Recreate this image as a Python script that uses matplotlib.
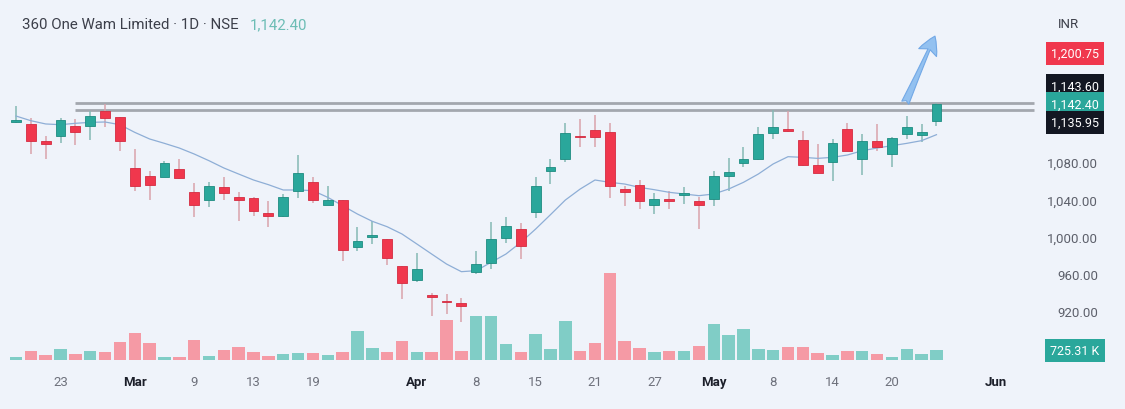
import matplotlib.pyplot as plt
import numpy as np

plt.rcParams['font.family'] = ['Roboto', 'DejaVu Sans']

# daily candles, 63 sessions (Feb 20 .. May 24)
opens = [1122.5, 1120.8, 1102.2, 1108.2, 1118.6, 1118.6, 1134.3, 1127.9, 1073.6, 1065.0,
         1064.3, 1072.1, 1047.5, 1039.2, 1053.5, 1042.1, 1041.0, 1025.0, 1022.1, 1049.3,
         1058.2, 1034.2, 1039.2, 989.2, 999.2, 997.1, 968.5, 953.5, 937.0, 931.3,
         928.8, 961.7, 971.3, 998.1, 1008.5, 1026.0, 1070.0, 1083.2, 1108.2, 1114.3,
         1112.5, 1051.0, 1055.7, 1033.9, 1040.3, 1044.3, 1037.8, 1040.3, 1064.6, 1078.6,
         1083.2, 1111.1, 1115.4, 1103.9, 1076.8, 1079.6, 1115.4, 1083.2, 1102.9, 1088.6,
         1110.0, 1109.3, 1123.6]
highs = [1140.4, 1127.2, 1108.2, 1127.2, 1126.1, 1135.1, 1142.2, 1128.6, 1093.9, 1070.0,
         1081.4, 1083.2, 1057.1, 1058.2, 1063.6, 1047.5, 1042.1, 1037.8, 1045.7, 1087.9,
         1064.3, 1053.9, 1039.2, 1009.9, 1017.1, 997.4, 968.8, 982.0, 939.2, 938.5,
         934.2, 984.2, 1015.3, 1020.7, 1014.2, 1063.6, 1083.2, 1121.5, 1126.1, 1130.8,
         1121.5, 1054.6, 1060.7, 1046.4, 1048.5, 1053.5, 1042.1, 1070.7, 1084.3, 1096.4,
         1117.2, 1135.8, 1135.1, 1113.6, 1099.3, 1104.7, 1121.5, 1110.0, 1120.8, 1107.2,
         1129.7, 1120.8, 1143.0]
lows = [1121.5, 1088.6, 1083.2, 1100.0, 1098.6, 1103.6, 1117.9, 1092.1, 1049.3, 1039.2,
        1064.3, 1061.8, 1021.4, 1032.1, 1039.2, 1017.1, 1022.4, 1010.6, 1021.4, 1041.4,
        1035.7, 1033.9, 974.2, 984.9, 992.1, 969.9, 933.1, 950.9, 915.2, 917.0,
        908.4, 959.9, 965.2, 992.8, 976.0, 1019.9, 1056.4, 1079.6, 1095.7, 1095.7,
        1041.4, 1033.2, 1029.6, 1024.2, 1029.6, 1035.0, 1008.1, 1033.2, 1049.3, 1075.0,
        1082.1, 1104.7, 1111.8, 1076.1, 1067.8, 1060.0, 1091.4, 1066.1, 1091.4, 1075.0,
        1104.7, 1101.1, 1118.3]
closes = [1125.4, 1102.9, 1099.3, 1125.0, 1111.8, 1129.7, 1127.2, 1102.2, 1053.9, 1055.7,
          1079.3, 1062.8, 1034.2, 1053.9, 1047.1, 1039.2, 1027.1, 1022.1, 1042.1, 1068.6,
          1039.2, 1039.2, 985.6, 995.6, 1001.4, 977.0, 949.9, 965.2, 934.9, 929.5,
          925.6, 970.6, 997.1, 1011.7, 990.3, 1054.6, 1075.0, 1111.1, 1106.4, 1107.2,
          1054.6, 1048.2, 1038.5, 1040.3, 1037.8, 1047.1, 1034.2, 1065.3, 1069.6, 1082.9,
          1110.0, 1117.2, 1113.6, 1076.8, 1068.6, 1100.4, 1092.1, 1102.9, 1096.4, 1105.7,
          1117.2, 1111.8, 1142.4]
# volume in thousands
volumes = [250, 675, 350, 800, 425, 700, 625, 1325, 2000, 1300,
           250, 200, 1525, 300, 775, 1000, 600, 300, 425, 550,
           550, 375, 575, 2175, 925, 575, 1425, 600, 625, 3000,
           700, 3300, 3300, 1200, 575, 1925, 800, 2900, 675, 1300,
           6550, 1425, 925, 575, 675, 675, 1075, 2675, 1900, 2350,
           825, 725, 1000, 950, 550, 350, 700, 650, 450, 250,
           825, 475, 725.31]
# moving average line
ma_line = [1129.3, 1124.3, 1120.8, 1120.0, 1121.5, 1122.5, 1122.9, 1120.0, 1111.8, 1104.7,
           1100.0, 1095.0, 1088.6, 1081.4, 1073.6, 1067.1, 1060.7, 1055.7, 1050.0, 1050.0,
           1049.3, 1042.1, 1033.2, 1024.2, 1016.4, 1010.6, 1002.8, 992.1, 981.3, 970.6,
           962.4, 963.5, 972.4, 981.3, 993.8, 1008.1, 1023.5, 1039.2, 1051.0, 1060.7,
           1058.2, 1056.4, 1052.8, 1050.3, 1047.5, 1045.7, 1043.9, 1045.7, 1051.0, 1058.2,
           1067.1, 1077.9, 1085.7, 1085.0, 1083.9, 1085.0, 1087.5, 1092.1, 1095.0, 1097.5,
           1100.0, 1102.9, 1109.3]

tick_pos = [3, 8, 12, 16, 20, 27, 31, 35, 39, 43, 47, 51, 55, 59, 66]
tick_text = ['23', 'Mar', '9', '13', '19', 'Apr', '8', '15', '21', '27', 'May', '8', '14', '20', 'Jun']
month_names = ['Mar', 'Apr', 'May', 'Jun']
price_ticks = [920, 960, 1000, 1040, 1080]
level_lines = [1143.60, 1135.95]
target_price = 1200.75
last_price = 1142.40

bg = '#eff3fa'
up_c, up_edge = '#2aa79b', '#1e8c80'
dn_c, dn_edge = '#f0374d', '#d42b40'
up_vol, dn_vol = '#80cdc6', '#f59aa5'

W, H = 1125, 410
fig = plt.figure(figsize=(W / 100, H / 100), dpi=100, facecolor=bg)
rect = [5 / W, 45 / H, 1025 / W, 325 / H]
vax = fig.add_axes(rect)
ax = fig.add_axes(rect, sharex=vax)
ax.set_zorder(2)
ax.patch.set_visible(False)
vax.set_facecolor(bg)

x = np.arange(len(closes))
o = np.array(opens)
c = np.array(closes)
up = c >= o

# volume
vax.bar(x, volumes, width=0.84, color=[up_vol if u else dn_vol for u in up], linewidth=0)
vax.set_ylim(-300, 24170)
vax.axis('off')

# candles
ax.vlines(x[up], np.array(lows)[up], np.array(highs)[up], color='#85b9b4', lw=1.1, zorder=2)
ax.vlines(x[~up], np.array(lows)[~up], np.array(highs)[~up], color='#d9a3ab', lw=1.1, zorder=2)
body_lo = np.minimum(o, c)
body_h = np.maximum(np.abs(c - o), 0.9)
ax.bar(x[up], body_h[up], bottom=body_lo[up], width=0.66, color=up_c, edgecolor=up_edge, lw=0.6, zorder=3)
ax.bar(x[~up], body_h[~up], bottom=body_lo[~up], width=0.66, color=dn_c, edgecolor=dn_edge, lw=0.6, zorder=3)

ax.plot(x, ma_line, color='#8eaed6', lw=0.9, zorder=2.5)

# horizontal levels
for lv in level_lines:
    ax.hlines(lv, 4, 68.6, color='#a3a7ae', lw=2.0, zorder=1, clip_on=False)

ax.set_xlim(-0.74, 68.3)
ax.set_ylim(863.4, 1211.9)

for s in ax.spines.values():
    s.set_visible(False)
ax.yaxis.tick_right()
ax.set_yticks(price_ticks, [f'{v:,.2f}' for v in price_ticks])
ax.tick_params(axis='y', length=0, pad=49, labelsize=9.5, labelcolor='#5d606b')
for lbl in ax.get_yticklabels():
    lbl.set_ha('right')
ax.set_xticks(tick_pos, tick_text)
ax.tick_params(axis='x', length=0, pad=8, labelsize=9.5, labelcolor='#6e717c')
for lbl in ax.get_xticklabels():
    if lbl.get_text() in month_names:
        lbl.set_fontweight('bold')
        lbl.set_color('#1c1f2a')

# price scale labels
ytr = ax.get_yaxis_transform()
def price_tag(val, dy, fc):
    ax.annotate(f'{val:,.2f}', xy=(1, val), xycoords=ytr, xytext=(49.5, dy), textcoords='offset points',
                ha='right', va='center', color='white', fontsize=9,
                bbox=dict(boxstyle='square,pad=0.42', fc=fc, ec='none'), annotation_clip=False, zorder=10)

price_tag(target_price, -3, '#f0374d')
price_tag(level_lines[0], 12, '#131722')
price_tag(last_price, 0, '#2aa79b')
price_tag(level_lines[1], -9, '#131722')

# volume tag
vax.annotate(f'{volumes[-1]:.2f} K', xy=(1, volumes[-1]), xycoords=vax.get_yaxis_transform(),
             xytext=(50, 0), textcoords='offset points', ha='right', va='center', color='white',
             fontsize=9, bbox=dict(boxstyle='square,pad=0.42', fc='#2aa79b', ec='none'),
             annotation_clip=False)

# arrow
ax.annotate('', xy=(61.9, 1215), xytext=(59.9, level_lines[0]), annotation_clip=False,
            arrowprops=dict(arrowstyle='fancy,head_length=1.3,head_width=1.4,tail_width=0.55',
                            fc='#93c1f0', ec='#72a8e6', lw=0.8, shrinkA=0, shrinkB=0))

fig.text(22 / W, 1 - 25 / H, '360 One Wam Limited · 1D · NSE', fontsize=10.8, color='#3c3f4a', va='center')
fig.text(250 / W, 1 - 25 / H, f'{last_price:,.2f}', fontsize=10.8, color='#6cbdb5', va='center')
fig.text(1068 / W, 1 - 25 / H, 'INR', fontsize=9.5, color='#3c3f4a', va='center', ha='center')

fig.savefig('out.png', dpi=100, facecolor=bg)
